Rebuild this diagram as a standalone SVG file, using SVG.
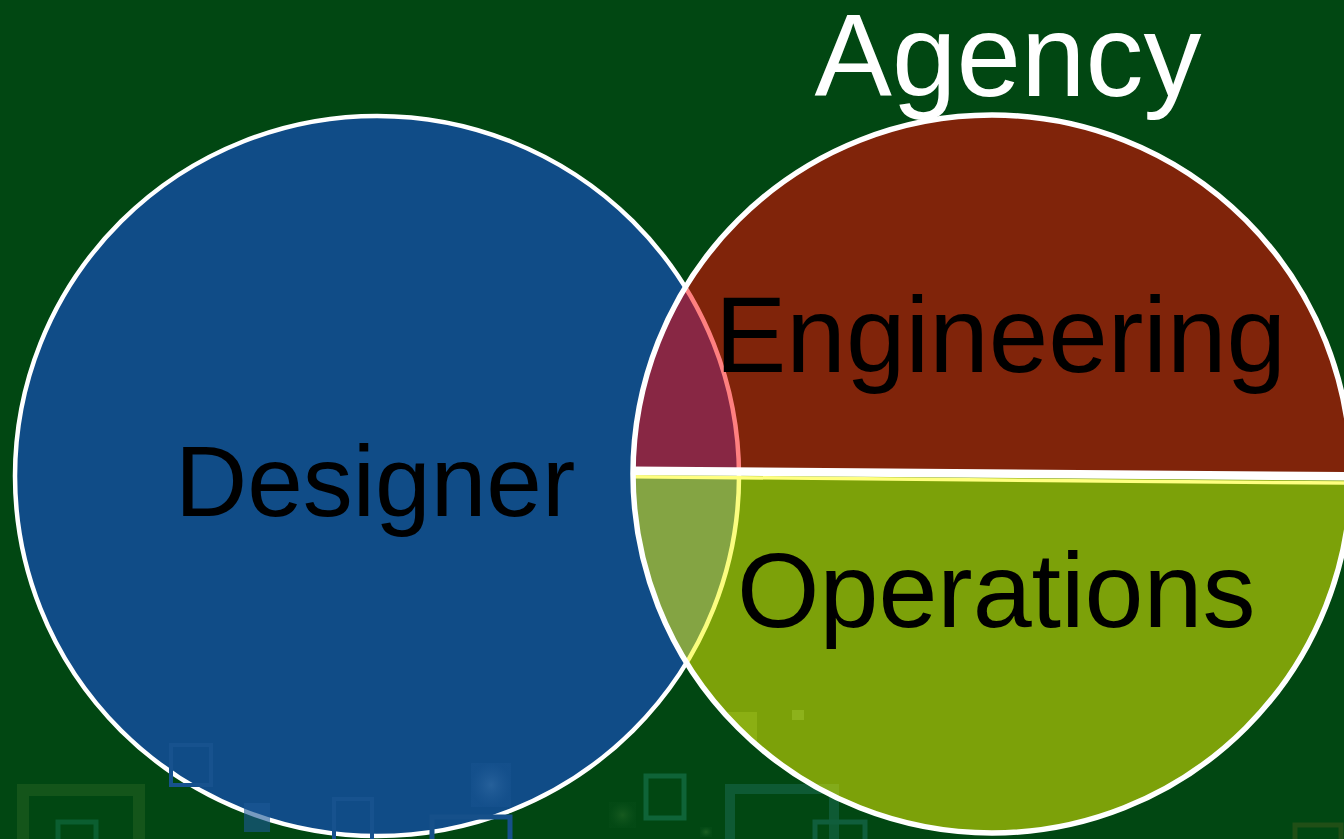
<svg xmlns="http://www.w3.org/2000/svg" width="1344" height="839" viewBox="0 0 1344 839">
  <style>
    .lbl { font-family: "Liberation Sans", Arial, sans-serif; fill: #000000; }
    .title { font-family: "Liberation Sans", Arial, sans-serif; fill: #ffffff; }
    .deco { fill: none; }
    .glow { stroke: none; }
  </style>
  <defs>
    <clipPath id="rightClip"><circle cx="992" cy="474" r="359"/></clipPath>
    <clipPath id="upperClip"><polygon points="600,0 1400,0 1400,476.8 600,470.4"/></clipPath>
    <clipPath id="lowerClip"><polygon points="600,470.4 1400,476.8 1400,900 600,900"/></clipPath>
    <radialGradient id="glowG">
      <stop offset="0" stop-color="#9fd070" stop-opacity="0.45"/>
      <stop offset="1" stop-color="#4f9a60" stop-opacity="0.1"/>
    </radialGradient>
    <radialGradient id="glowB">
      <stop offset="0" stop-color="#5a90c8" stop-opacity="0.6"/>
      <stop offset="1" stop-color="#2a64a6" stop-opacity="0.3"/>
    </radialGradient>
  </defs>

  <rect id="background" x="0" y="0" width="1344" height="839" fill="#014712"/>

  <g id="decorations-back">
    <rect class="deco" x="23" y="790" width="116" height="60" stroke="#14551a" stroke-width="12"/>
    <rect class="deco" x="58" y="822" width="38" height="30" stroke="#0b5e30" stroke-width="5"/>
    <rect class="deco" x="646" y="776" width="38" height="42" stroke="#0f6438" stroke-width="5"/>
    <rect class="deco" x="730" y="789" width="104" height="60" stroke="#0e5a34" stroke-width="10"/>
    <rect class="deco" x="815" y="822" width="50" height="30" stroke="#105e3c" stroke-width="5"/>
    <rect class="deco" x="1295" y="825" width="46" height="20" stroke="#204f16" stroke-width="5"/>
    <rect class="glow" x="609" y="802" width="27" height="26" fill="url(#glowG)" opacity="0.3"/>
    <rect class="glow" x="700" y="827" width="12" height="10" fill="url(#glowG)" opacity="0.4"/>
  </g>

  <g id="node-designer">
    <ellipse cx="377" cy="476" rx="362" ry="360" fill="#104C87" stroke="#ffffff" stroke-width="4.5"/>
    <rect class="deco" x="171" y="745" width="40" height="40" stroke="#17528e" stroke-width="4"/>
    <rect class="glow" x="471" y="763" width="40" height="44" fill="url(#glowB)" opacity="0.5"/>
    <rect class="deco" x="334" y="799" width="38" height="45" stroke="#17528e" stroke-width="4"/>
    <rect class="glow" x="244" y="803" width="26" height="29" fill="#1d5896" opacity="0.6"/>
    <rect class="deco" x="432" y="817" width="78" height="30" stroke="#16508a" stroke-width="5"/>
    <text class="lbl" x="175" y="516" font-size="100">Designer</text>
  </g>

  <g id="node-agency">
    <g clip-path="url(#rightClip)">
      <g id="node-engineering" clip-path="url(#upperClip)">
        <circle cx="992" cy="474" r="359" fill="rgb(255,1,2)" fill-opacity="0.5"/>
      </g>
      <g id="node-operations" clip-path="url(#lowerClip)">
        <circle cx="992" cy="474" r="359" fill="rgb(248,252,0)" fill-opacity="0.5"/>
        <rect class="glow" x="719" y="712" width="38" height="41" fill="#a8c828" opacity="0.35"/>
        <rect class="glow" x="792" y="710" width="12" height="10" fill="#b0d040" opacity="0.35"/>
      </g>
      <line x1="600" y1="476.4" x2="1400" y2="483.6" stroke="#FFFF80" stroke-width="3.5"/>
      <line x1="600" y1="470.4" x2="1400" y2="476.8" stroke="#ffffff" stroke-width="8.5"/>
    </g>
    <circle cx="992" cy="474" r="359" fill="none" stroke="#ffffff" stroke-width="5.5"/>
    <text class="lbl" x="715" y="372" font-size="107">Engineering</text>
    <text class="lbl" x="737" y="627" font-size="106">Operations</text>
  </g>

  <text id="label-agency" class="title" x="1008" y="96" font-size="116" text-anchor="middle">Agency</text>
</svg>
